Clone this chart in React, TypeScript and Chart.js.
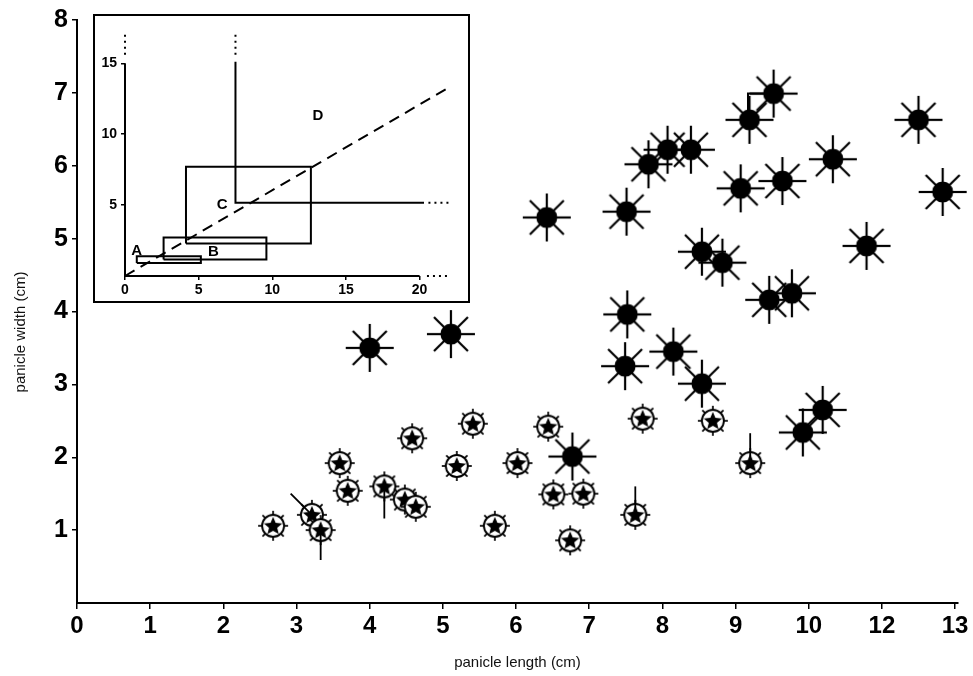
import React, { useEffect, useRef } from 'react';
import { Chart, registerables } from 'chart.js';
Chart.register(...registerables);

// ---------- main plot data ----------
const xTickValues = [0, 1, 2, 3, 4, 5, 6, 7, 8, 9, 10, 11, 12];
const xTickLabels = ['0', '1', '2', '3', '4', '5', '6', '7', '8', '9', '10', '12', '13'];
const yTickValues = [1, 2, 3, 4, 5, 6, 7, 8];

// large filled (spiky) symbols
const largeX = [6.42, 7.51, 7.81, 8.07, 8.39, 9.19, 9.52, 9.07, 9.64, 10.33, 11.5, 11.83, 10.79, 8.54, 8.82, 9.46, 9.77, 7.52, 7.49, 8.15, 8.54, 6.77, 9.92, 10.19, 4.0, 5.11];
const largeY = [5.29, 5.37, 6.02, 6.22, 6.22, 6.63, 6.99, 5.69, 5.79, 6.09, 6.63, 5.64, 4.9, 4.82, 4.67, 4.16, 4.25, 3.96, 3.25, 3.45, 3.01, 2.01, 2.34, 2.65, 3.5, 3.69];

// small star-in-circle symbols
const smallX = [2.68, 3.21, 3.33, 3.59, 3.7, 4.2, 4.48, 4.63, 4.58, 5.19, 5.41, 6.02, 5.71, 6.44, 6.51, 6.92, 6.74, 7.63, 7.73, 8.69, 9.2];
const smallY = [1.06, 1.21, 1.0, 1.92, 1.54, 1.6, 1.42, 1.32, 2.26, 1.88, 2.46, 1.92, 1.06, 2.42, 1.49, 1.5, 0.86, 1.21, 2.53, 2.5, 1.92];

// extra whisker strokes attached to some symbols
const whiskerX1 = [7.63, 9.2, 3.21, 3.33, 4.2];
const whiskerY1 = [1.21, 1.92, 1.21, 1.0, 1.6];
const whiskerX2 = [7.63, 9.2, 2.92, 3.33, 4.2];
const whiskerY2 = [1.6, 2.33, 1.5, 0.59, 1.16];
const bracketX = [9.17, 9.17, 9.5];
const bracketY = [6.63, 6.99, 6.99];

// ---------- inset data ----------
const insetXTicks = [0, 5, 10, 15, 20];
const insetYTicks = [5, 10, 15];
const insetSolid: number[][][] = [
  [[0, 0], [20, 0]],
  [[0, 0], [0, 15]],
  [[7.5, 15.1], [7.5, 5.17], [20.3, 5.17]],
  [[0.8, 0.92], [5.15, 0.92], [5.15, 1.4], [0.8, 1.4], [0.8, 0.92]],
  [[2.62, 1.17], [9.6, 1.17], [9.6, 2.71], [2.62, 2.71], [2.62, 1.17]],
  [[4.14, 2.3], [12.62, 2.3], [12.62, 7.7], [4.14, 7.7], [4.14, 2.3]],
];
const insetDotted: number[][][] = [
  [[20.5, 0], [22, 0]],
  [[0, 15.6], [0, 17.3]],
  [[7.5, 15.6], [7.5, 17.3]],
  [[20.6, 5.17], [22, 5.17]],
];
const insetDashed: number[][][] = [
  [[0, 0], [22, 13.3]],
];
const insetLabels = ['A', 'B', 'C', 'D'];
const insetLabelX = [0.8, 6.0, 6.6, 13.1];
const insetLabelY = [1.79, 1.68, 5.01, 11.3];

const FONT = '"Liberation Sans", Arial, Helvetica, sans-serif';

function makeSpikeMarker(): HTMLCanvasElement {
  const s = 56;
  const c = document.createElement('canvas');
  c.width = s; c.height = s;
  const ctx = c.getContext('2d')!;
  const m = s / 2;
  ctx.strokeStyle = '#000';
  ctx.lineWidth = 2.2;
  for (let k = 0; k < 8; k++) {
    const a = (k * Math.PI) / 4;
    ctx.beginPath();
    ctx.moveTo(m + Math.cos(a) * 8, m + Math.sin(a) * 8);
    ctx.lineTo(m + Math.cos(a) * 24, m + Math.sin(a) * 24);
    ctx.stroke();
  }
  ctx.fillStyle = '#000';
  ctx.beginPath();
  ctx.arc(m, m, 10.5, 0, Math.PI * 2);
  ctx.fill();
  return c;
}

function makeStarMarker(): HTMLCanvasElement {
  const s = 36;
  const c = document.createElement('canvas');
  c.width = s; c.height = s;
  const ctx = c.getContext('2d')!;
  const m = s / 2;
  ctx.fillStyle = '#fff';
  ctx.strokeStyle = '#000';
  ctx.lineWidth = 1.9;
  ctx.beginPath();
  ctx.arc(m, m, 11, 0, Math.PI * 2);
  ctx.fill();
  ctx.stroke();
  ctx.lineWidth = 1.7;
  for (let k = 0; k < 8; k++) {
    const a = (k * Math.PI) / 4;
    ctx.beginPath();
    ctx.moveTo(m + Math.cos(a) * 11, m + Math.sin(a) * 11);
    ctx.lineTo(m + Math.cos(a) * 15, m + Math.sin(a) * 15);
    ctx.stroke();
  }
  ctx.fillStyle = '#000';
  ctx.beginPath();
  for (let k = 0; k < 10; k++) {
    const r = k % 2 === 0 ? 9.6 : 4.3;
    const a = -Math.PI / 2 + (k * Math.PI) / 5;
    const px = m + Math.cos(a) * r;
    const py = m + 0.6 + Math.sin(a) * r;
    if (k === 0) ctx.moveTo(px, py); else ctx.lineTo(px, py);
  }
  ctx.closePath();
  ctx.fill();
  return c;
}

const yTitlePlugin = {
  id: 'yTitlePlugin',
  afterDraw(chart: any) {
    const ctx = chart.ctx;
    ctx.save();
    ctx.translate(21, 332);
    ctx.rotate(-Math.PI / 2);
    ctx.font = `15px ${FONT}`;
    ctx.fillStyle = '#111';
    ctx.textAlign = 'center';
    ctx.textBaseline = 'middle';
    ctx.fillText('panicle width (cm)', 0, 0);
    ctx.restore();
  },
};

const insetLabelPlugin = {
  id: 'insetLabelPlugin',
  afterDatasetsDraw(chart: any) {
    const ctx = chart.ctx;
    const xs = chart.scales.x;
    const ys = chart.scales.y;
    ctx.save();
    ctx.font = `bold 15px ${FONT}`;
    ctx.fillStyle = '#000';
    ctx.textAlign = 'center';
    ctx.textBaseline = 'middle';
    insetLabels.forEach((t, i) => {
      ctx.fillText(t, xs.getPixelForValue(insetLabelX[i]), ys.getPixelForValue(insetLabelY[i]));
    });
    ctx.restore();
  },
};

export default function App() {
  const mainRef = useRef<HTMLCanvasElement>(null);
  const insetRef = useRef<HTMLCanvasElement>(null);

  useEffect(() => {
    const spike = makeSpikeMarker();
    const star = makeStarMarker();

    const lineDs = (pts: { x: number; y: number }[], extra: any = {}) => ({
      type: 'line' as const,
      data: pts,
      showLine: true,
      borderColor: '#000',
      borderWidth: 1.8,
      pointRadius: 0,
      fill: false,
      tension: 0,
      clip: false,
      ...extra,
    });

    const whiskerSets = whiskerX1.map((_, i) =>
      lineDs([
        { x: whiskerX1[i], y: whiskerY1[i] },
        { x: whiskerX2[i], y: whiskerY2[i] },
      ])
    );
    const bracketSet = lineDs(bracketX.map((x, i) => ({ x, y: bracketY[i] })), { borderWidth: 2 });

    const main = new Chart(mainRef.current!, {
      type: 'scatter',
      data: {
        datasets: [
          ...whiskerSets,
          bracketSet,
          {
            data: smallX.map((x, i) => ({ x, y: smallY[i] })),
            pointStyle: star,
            pointRadius: 10,
            clip: false,
          } as any,
          {
            data: largeX.map((x, i) => ({ x, y: largeY[i] })),
            pointStyle: spike,
            pointRadius: 10,
            clip: false,
          } as any,
        ],
      },
      options: {
        animation: false,
        responsive: false,
        devicePixelRatio: 1,
        events: [],
        layout: { padding: { top: 20, right: 15, bottom: 0, left: 0 } },
        plugins: { legend: { display: false }, tooltip: { enabled: false } },
        scales: {
          x: {
            type: 'linear',
            min: 0,
            max: 12.04,
            afterBuildTicks: (s: any) => { s.ticks = xTickValues.map((v) => ({ value: v })); },
            afterFit: (s: any) => { s.height = 73; },
            ticks: {
              autoSkip: false,
              maxRotation: 0,
              padding: 3,
              color: '#000',
              font: { family: FONT, size: 24, weight: 'bold' },
              callback: (_v: any, i: number) => xTickLabels[i],
            },
            grid: { drawOnChartArea: false, drawTicks: true, tickLength: 6, color: '#000', lineWidth: 1.5 },
            border: { display: true, color: '#000', width: 2 },
            title: {
              display: true,
              text: 'panicle length (cm)',
              color: '#111',
              font: { family: FONT, size: 15 },
              padding: { top: 0, bottom: 4 },
            },
          },
          y: {
            type: 'linear',
            min: 0,
            max: 8,
            afterBuildTicks: (s: any) => { s.ticks = yTickValues.map((v) => ({ value: v })); },
            afterFit: (s: any) => { s.width = 77; },
            ticks: {
              padding: 4,
              color: '#000',
              font: { family: FONT, size: 25, weight: 'bold' },
              callback: (v: any) => String(v),
            },
            grid: { drawOnChartArea: false, drawTicks: true, tickLength: 5, color: '#000', lineWidth: 1.5 },
            border: { display: true, color: '#000', width: 2 },
          },
        },
      } as any,
      plugins: [yTitlePlugin],
    });

    const toPts = (poly: number[][]) => poly.map((p) => ({ x: p[0], y: p[1] }));
    const insetDatasets: any[] = [
      ...insetSolid.map((p) => lineDs(toPts(p), { borderWidth: 2 })),
      ...insetDotted.map((p) => lineDs(toPts(p), { borderWidth: 2, borderDash: [2, 4] })),
      ...insetDashed.map((p) => lineDs(toPts(p), { borderWidth: 2, borderDash: [11, 7] })),
    ];

    const inset = new Chart(insetRef.current!, {
      type: 'scatter',
      data: { datasets: insetDatasets },
      options: {
        animation: false,
        responsive: false,
        devicePixelRatio: 1,
        events: [],
        layout: { padding: { top: 7, right: 18, bottom: 0, left: 0 } },
        plugins: { legend: { display: false }, tooltip: { enabled: false } },
        scales: {
          x: {
            type: 'linear',
            min: 0,
            max: 22.2,
            afterBuildTicks: (s: any) => { s.ticks = insetXTicks.map((v) => ({ value: v })); },
            afterFit: (s: any) => { s.height = 27; },
            ticks: {
              autoSkip: false,
              maxRotation: 0,
              padding: 2,
              color: '#000',
              font: { family: FONT, size: 14, weight: 'bold' },
              callback: (v: any) => String(v),
            },
            grid: { drawOnChartArea: false, drawTicks: true, tickLength: 4, color: '#000', lineWidth: 1.5 },
            border: { display: false },
          },
          y: {
            type: 'linear',
            min: 0,
            max: 17.6,
            afterBuildTicks: (s: any) => { s.ticks = insetYTicks.map((v) => ({ value: v })); },
            afterFit: (s: any) => { s.width = 32; },
            ticks: {
              padding: 4,
              color: '#000',
              font: { family: FONT, size: 14, weight: 'bold' },
              callback: (v: any) => String(v),
            },
            grid: { drawOnChartArea: false, drawTicks: true, tickLength: 4, color: '#000', lineWidth: 1.5 },
            border: { display: false },
          },
        },
      } as any,
      plugins: [insetLabelPlugin],
    });

    return () => {
      main.destroy();
      inset.destroy();
    };
  }, []);

  return (
    <div style={{ position: 'fixed', left: 0, top: 0, width: 973, height: 676, background: '#fff' }}>
      <canvas ref={mainRef} width={973} height={676} style={{ position: 'absolute', left: 0, top: 0 }} />
      <div style={{ position: 'absolute', left: 93, top: 14, width: 377, height: 289, background: '#fff' }}>
        <canvas ref={insetRef} width={377} height={289} style={{ position: 'absolute', left: 0, top: 0 }} />
        <div
          style={{
            position: 'absolute',
            left: 0,
            top: 0,
            width: 377,
            height: 289,
            border: '2px solid #000',
            boxSizing: 'border-box',
            pointerEvents: 'none',
          }}
        />
      </div>
    </div>
  );
}
